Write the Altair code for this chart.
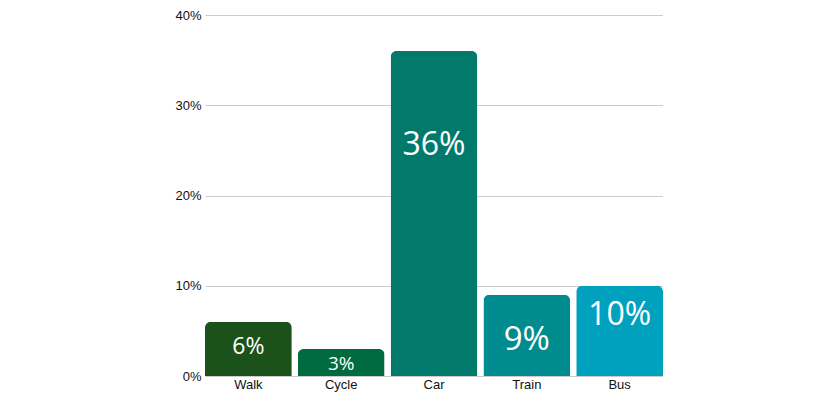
import altair as alt
import pandas as pd

modes = ["Walk", "Cycle", "Car", "Train", "Bus"]
shares = [6, 3, 36, 9, 10]
colors = ["#1a5219", "#006b3e", "#017a6b", "#008c8e", "#00a0bf"]
label_offsets = [25, 15, 94, 45, 29]
label_sizes = [23, 19, 32, 33, 32]

PLOT_H = 361
Y_MAX = 40

df = pd.DataFrame({
    "mode": modes,
    "share": shares,
    "label": [f"{v}%" for v in shares],
    "off": label_offsets,
    "fs": label_sizes,
})

x = alt.X("mode:N", sort=modes, title=None,
          scale=alt.Scale(paddingInner=0.065, paddingOuter=0),
          axis=alt.Axis(labelAngle=0, domain=False, ticks=False, labelFont="Liberation Sans",
                        labelFontSize=13, labelColor="#111", labelPadding=2))

bars = alt.Chart(df).mark_bar(cornerRadiusTopLeft=6, cornerRadiusTopRight=6).encode(
    x=x,
    y=alt.Y("share:Q", title=None,
            scale=alt.Scale(domain=[0, Y_MAX]),
            axis=alt.Axis(values=[0, 10, 20, 30, 40], labelExpr="datum.value + '%'",
                          domain=False, ticks=False, grid=True, gridColor="#cccccc",
                          labelFont="Liberation Sans", labelFontSize=13, labelColor="#111",
                          labelPadding=4)),
    color=alt.Color("mode:N", scale=alt.Scale(domain=modes, range=colors), legend=None),
)

text = alt.Chart(df).transform_calculate(
    ly=f"datum.share - datum.off * {Y_MAX} / {PLOT_H}"
).mark_text(color="white", font="Open Sans", baseline="middle").encode(
    x=alt.X("mode:N", sort=modes),
    y=alt.Y("ly:Q"),
    size=alt.Size("fs:Q", scale=None, legend=None),
    text="label:N",
)

chart = (bars + text).properties(
    width=458, height=PLOT_H,
    autosize=alt.AutoSizeParams(type="none"),
    padding={"left": 197, "top": 7, "right": 0, "bottom": 25},
).configure_view(stroke=None)

chart.save("out.html", embed_options={"renderer": "svg", "actions": False})
